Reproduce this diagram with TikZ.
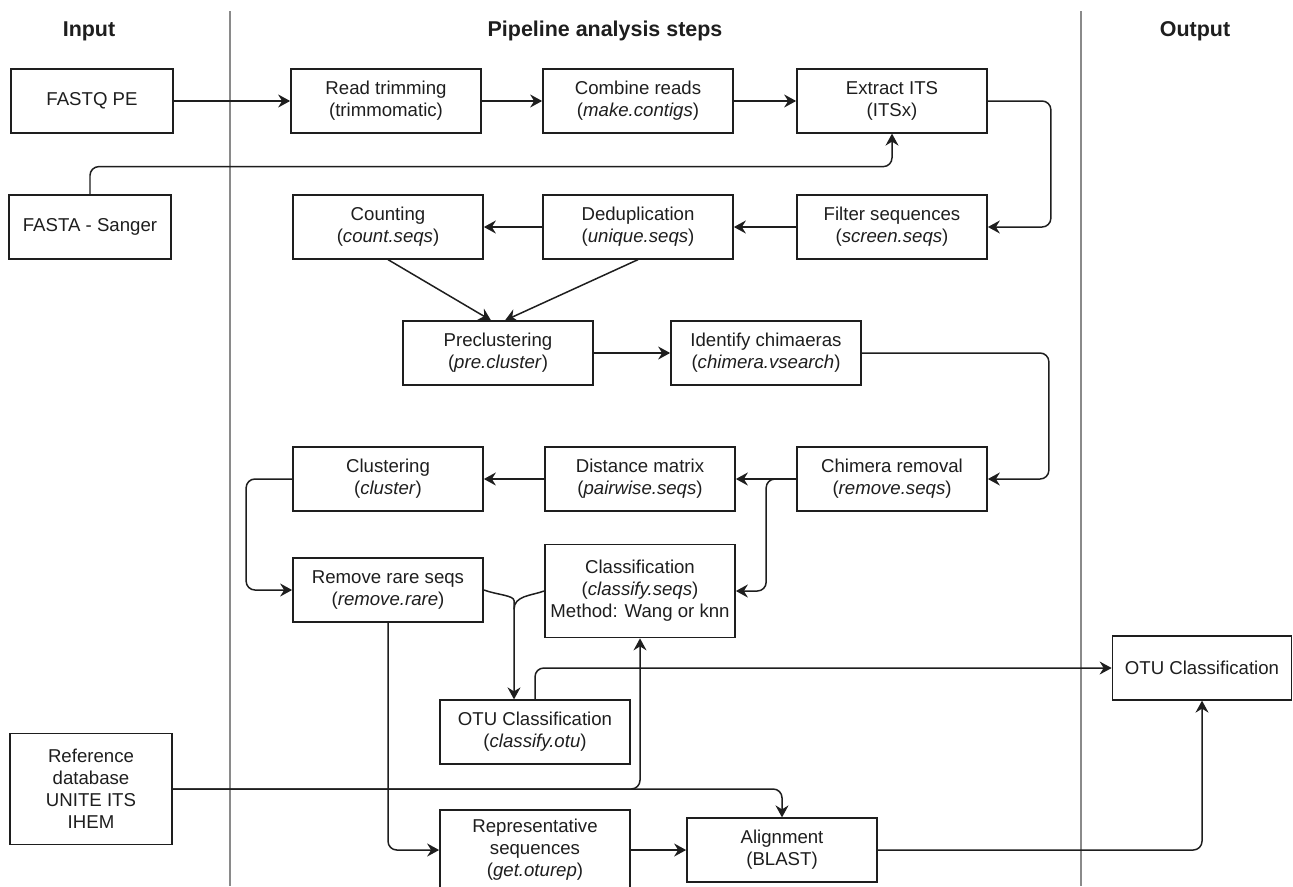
\documentclass[tikz,border=0pt]{standalone}
\usepackage{fontspec}
\setmainfont{Liberation Sans}
\usetikzlibrary{arrows.meta, positioning, calc}
\definecolor{cline}{HTML}{1E1E1E}
\definecolor{cgrey}{HTML}{8A8A8A}
\tikzset{
  every picture/.style={line width=0.8pt},
  stepbox/.style={draw=cline, line width=1pt, text=cline, align=center, inner sep=0pt,
    minimum width=3.8cm, minimum height=1.27cm, font=\fontsize{10.6}{12.5}\selectfont},
  inbox/.style={stepbox, minimum width=3.24cm},
  conn/.style={draw=cline, line width=0.85pt},
  arrow/.style={conn, -{Stealth[length=2.4mm, width=2.6mm, inset=0.8mm]}, rounded corners=5pt},
  title/.style={font=\fontsize{12.2}{14}\selectfont\bfseries, text=cline},
  divider/.style={draw=cgrey, line width=0.6pt},
}
\begin{document}
\begin{tikzpicture}[x=0.02cm, y=-0.02cm]
  \useasboundingbox[fill=white] (0,0) rectangle (1293,886);
  % column titles and separators
  \node[title] (hin) at (89,31) {Input};
  \node[title] (hpipe) at (605,31) {Pipeline analysis steps};
  \node[title] (hout) at (1195,31) {Output};
  \draw[divider] (230,11) -- (230,886);
  \draw[divider] (1081,11) -- (1081,886);
  % input files
  \node[inbox] (fastq) at (92,101) {FASTQ PE};
  \node[inbox] (fasta) at (90,227) {FASTA - Sanger};
  \node[inbox, minimum height=2.22cm] (refdb) at (91,789) {Reference\\database\\UNITE ITS\\IHEM};
  % pipeline steps
  \node[stepbox] (trim) at (386,101) {Read trimming\\(trimmomatic)};
  \node[stepbox] (combine) at (638,101) {Combine reads\\(\textit{make.contigs})};
  \node[stepbox] (extract) at (892,101) {Extract ITS\\(ITSx)};
  \node[stepbox] (count) at (388,227) {Counting\\(\textit{count.seqs})};
  \node[stepbox] (dedup) at (638,227) {Deduplication\\(\textit{unique.seqs})};
  \node[stepbox] (filter) at (892,227) {Filter sequences\\(\textit{screen.seqs})};
  \node[stepbox] (preclust) at (498,353) {Preclustering\\(\textit{pre.cluster})};
  \node[stepbox] (chimid) at (766,353) {Identify chimaeras\\(\textit{chimera.vsearch})};
  \node[stepbox] (clust) at (388,479) {Clustering\\(\textit{cluster})};
  \node[stepbox] (dist) at (640,479) {Distance matrix\\(\textit{pairwise.seqs})};
  \node[stepbox] (chimrem) at (892,479) {Chimera removal\\(\textit{remove.seqs})};
  \node[stepbox] (rare) at (388,590) {Remove rare seqs\\(\textit{remove.rare})};
  \node[stepbox, minimum height=1.86cm] (classify) at (640,591) {Classification\\(\textit{classify.seqs})\\Method: Wang or knn};
  \node[stepbox] (otu) at (535,732) {OTU Classification\\(\textit{classify.otu})};
  \node[stepbox, minimum height=1.6cm] (repr) at (535,850) {Representative\\sequences\\(\textit{get.oturep})};
  \node[stepbox] (align) at (782,850) {Alignment\\(BLAST)};
  % output
  \node[stepbox, minimum width=3.58cm] (outotu) at (1202,668) {OTU Classification};
  % connectors
  \draw[arrow] (fastq) -- (trim);
  \draw[arrow] (trim) -- (combine);
  \draw[arrow] (combine) -- (extract);
  \draw[arrow] (fasta.north) |- ($(extract.south)+(0,33)$) -- (extract.south);
  \draw[arrow] (extract.east) -- ++(63,0) |- (filter.east);
  \draw[arrow] (filter) -- (dedup);
  \draw[arrow] (dedup) -- (count);
  \draw[arrow] (count.south) -- ($(preclust.north)+(-7,0)$);
  \draw[arrow] (dedup.south) -- ($(preclust.north)+(7,0)$);
  \draw[arrow] (preclust) -- (chimid);
  \draw[arrow] (chimid.east) -- ++(187,0) |- (chimrem.east);
  \draw[arrow] (chimrem) -- (dist);
  \draw[arrow] (dist) -- (clust);
  \draw[arrow] (clust.west) -- ++(-46,0) |- (rare.west);
  \coordinate (split) at ($(chimrem.west)+(-30,0)$);
  \draw[arrow] ($(split)+(14,0)$) -- (split) |- (classify.east);
  % rare seqs and classification join into the OTU step
  \coordinate (merge) at ($(otu.north)+(-21,-90)$);
  \draw[arrow] (rare.east) to[out=-20, in=90] (merge) -- ($(otu.north)+(-21,0)$);
  \draw[conn] (classify.west) to[out=200, in=90] (merge);
  \draw[arrow] (otu.north) |- (outotu.west);
  \draw[arrow] (refdb.east) -| (classify.south);
  \draw[arrow] (refdb.east) -| (align.north);
  \draw[arrow] (rare.south) |- (repr.west);
  \draw[arrow] (repr) -- (align);
  \draw[arrow] (align.east) -| (outotu.south);
\end{tikzpicture}
\end{document}
